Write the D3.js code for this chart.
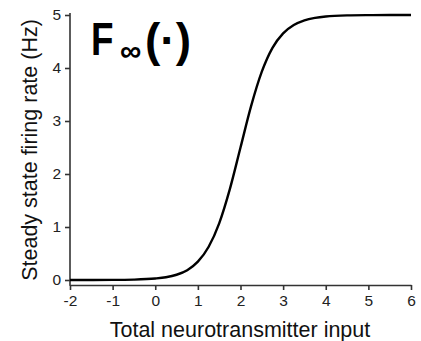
<!DOCTYPE html>
<html><head><meta charset="utf-8">
<script src="https://cdn.jsdelivr.net/npm/d3@7"></script>
<style>body{margin:0;background:#fff}svg{display:block}text{font-family:"Liberation Sans",Arial,sans-serif}</style>
</head><body>
<svg id="c" width="421" height="341"></svg>
<script>
const xVals = [-2, -1.5, -1, -0.5, 0, 0.25, 0.5, 0.75, 1, 1.25, 1.5, 1.75, 2, 2.25, 2.5, 2.75, 3, 3.25, 3.5, 3.75, 4, 4.5, 5, 5.5, 6];
const yVals = [0.0002, 0.0006, 0.0017, 0.0075, 0.028, 0.052, 0.099, 0.185, 0.346, 0.623, 1.07, 1.715, 2.5, 3.285, 3.93, 4.38, 4.654, 4.81, 4.90, 4.947, 4.973, 4.993, 4.998, 4.9995, 5.0];
const xTicks = [-2, -1, 0, 1, 2, 3, 4, 5, 6];
const yTicks = [0, 1, 2, 3, 4, 5];
const xTitle = "Total neurotransmitter input";
const yTitle = "Steady state firing rate (Hz)";

const FONT = "'Liberation Sans', Arial, sans-serif";
const svg = d3.select("#c");
const x = d3.scaleLinear().domain([-2, 6]).range([70, 411]);
const y = d3.scaleLinear().domain([0, 5]).range([280, 15]);
const axisColor = "#333";

// x axis
const gx = svg.append("g").attr("transform", "translate(0,285)")
  .call(d3.axisBottom(x).tickValues(xTicks).tickSize(5).tickPadding(5).tickSizeOuter(0).tickFormat(d => String(d)));
gx.select(".domain").attr("stroke", axisColor).attr("stroke-width", 1.6);
gx.selectAll(".tick line").attr("stroke", axisColor).attr("stroke-width", 1.6);
gx.selectAll(".tick text").attr("font-size", 15.5).attr("fill", "#222").attr("font-family", FONT);

// y axis
const gy = svg.append("g").attr("transform", "translate(70,0)")
  .call(d3.axisLeft(y).tickValues(yTicks).tickSize(5).tickPadding(4).tickFormat(d => String(d)));
gy.select(".domain").remove();
gy.selectAll(".tick line").attr("stroke", axisColor).attr("stroke-width", 1.6);
gy.selectAll(".tick text").attr("font-size", 15.5).attr("fill", "#222").attr("font-family", FONT);
svg.append("line").attr("x1", 70).attr("x2", 70).attr("y1", 13).attr("y2", 285.8)
  .attr("stroke", axisColor).attr("stroke-width", 1.6);

// curve
const pts = xVals.map((v, i) => [v, yVals[i]]);
svg.append("path").datum(pts)
  .attr("fill", "none").attr("stroke", "#000").attr("stroke-width", 2.4)
  .attr("d", d3.line().x(d => x(d[0])).y(d => y(d[1])).curve(d3.curveMonotoneX));

// titles
svg.append("text").attr("x", 240).attr("y", 337).attr("text-anchor", "middle")
  .attr("font-size", 21.5).attr("fill", "#111").text(xTitle);
svg.append("text").attr("transform", "translate(37,150) rotate(-90)").attr("text-anchor", "middle")
  .attr("font-size", 21.5).attr("fill", "#111").text(yTitle);

// F∞(·)
svg.append("text").attr("transform", "translate(91,55) scale(0.8,1)")
  .attr("font-size", 46).attr("font-weight", "bold").attr("fill", "#000").text("F");
svg.append("text").attr("x", 120).attr("y", 61)
  .attr("font-size", 30).attr("font-weight", "bold").attr("fill", "#000").text("∞");
svg.append("text").attr("x", 145).attr("y", 56)
  .attr("font-size", 46).attr("font-weight", "bold").attr("fill", "#000").text("(·)");
</script>
</body></html>
